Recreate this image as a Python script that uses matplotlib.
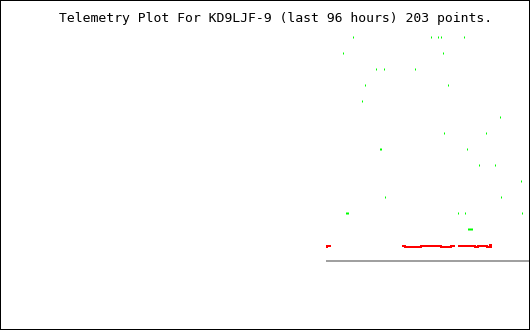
"""Telemetry plot for KD9LJF-9, last 96 hours."""

import matplotlib

matplotlib.use("Agg")
import matplotlib.pyplot as plt
import numpy as np
from matplotlib.patches import Rectangle

TITLE = "Telemetry Plot For KD9LJF-9 (last 96 hours) 203 points."

# green channel samples: hours into window, value
green_hours = [
    63.85, 77.98, 79.25, 79.79, 83.96,
    62.04, 80.33,
    68.02, 69.47, 75.26, 95.73,
    66.20, 81.06,
    65.66,
    90.48,
    80.51, 87.94,
    68.92, 69.10, 84.50,
    86.85, 89.57,
    94.46,
    69.65, 90.66,
    62.76, 62.94, 63.12, 82.87, 84.14, 94.64,
    84.86, 85.04, 85.22, 85.40, 85.58,
]
green_vals = (
    [14] * 5 + [13] * 2 + [12] * 4 + [11] * 2 + [10] + [9] + [8] * 2
    + [7] * 3 + [6] * 2 + [5] + [4] * 2 + [3] * 6 + [2] * 5
)

# red channel (NaN marks a gap in the data)
red_hours = [59.05, 59.23, 59.95,
             72.82, 73.36, 76.26, 79.88, 81.69, 82.42,
             82.96, 86.04, 86.58, 88.21, 88.75, 88.94, 89.12]
red_vals = [0.875, 0.9375, np.nan,
            0.9375, 0.875, 0.9375, 0.875, 0.9375, np.nan,
            0.9375, 0.875, 0.9375, 0.875, 0.97, 0.875, 0.875]

baseline_start = 59.05
window_hours = 96


def main() -> None:
    fig = plt.figure(figsize=(5.3, 3.3), dpi=100)
    ax = fig.add_axes([0, 0, 1, 1])
    ax.set_xlim(0, window_hours)
    ax.set_ylim(-4.3125, 16.3125)
    ax.axis("off")

    px = 72 / 100  # one pixel in points

    ax.hlines(0, baseline_start, window_hours, color="#a0a0a0",
              lw=2 * px, antialiased=False)
    ax.plot(red_hours, red_vals, color="#ff0000", lw=2 * px,
            drawstyle="steps-post", solid_capstyle="butt", antialiased=False)
    ax.plot(green_hours, green_vals, ls="none", marker="|", ms=2 * px,
            mew=1 * px, color="#00ff00", antialiased=False)

    fig.text(59 / 530, 1 - 22 / 330, TITLE, family="DejaVu Sans Mono",
             fontsize=9.45, va="baseline", ha="left", color="black")

    fig.add_artist(Rectangle((0, 0), 1, 1, transform=fig.transFigure,
                             fill=False, lw=2 * px, edgecolor="black"))

    fig.savefig("out.png", dpi=100)


if __name__ == "__main__":
    main()
